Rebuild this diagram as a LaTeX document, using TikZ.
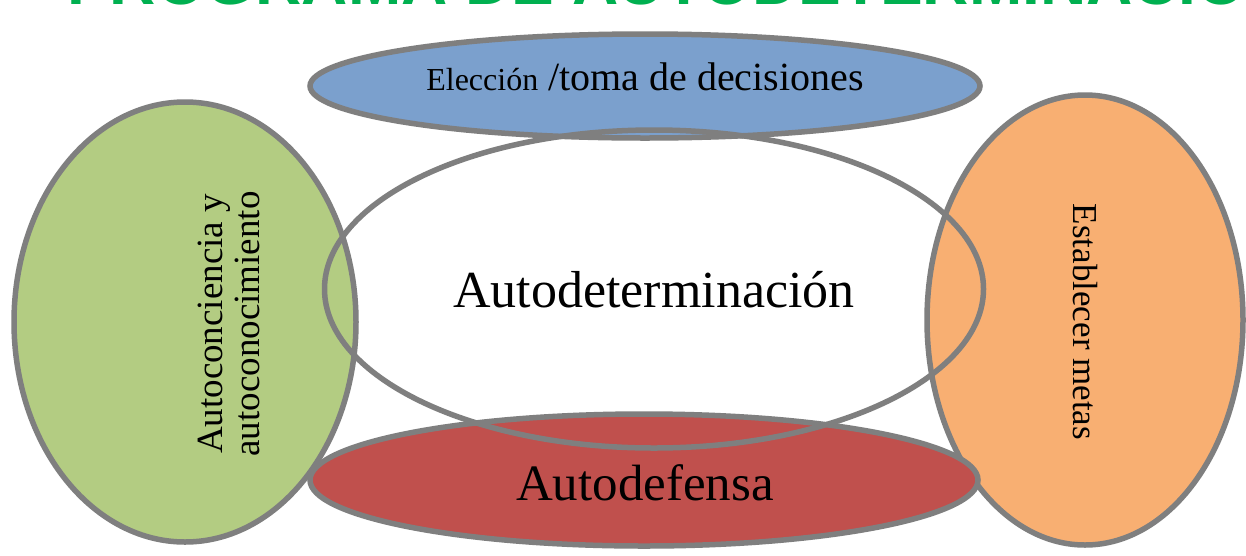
\documentclass[tikz,border=0pt]{standalone}
\usepackage{fontspec}
\setmainfont{Liberation Serif}
\newfontfamily\titlefont{Liberation Sans}
\usetikzlibrary{shapes.geometric}
\definecolor{cblue}{RGB}{123,160,205}
\definecolor{cgreen}{RGB}{179,204,130}
\definecolor{cred}{RGB}{192,80,77}
\definecolor{corange}{RGB}{248,175,114}
\definecolor{cline}{RGB}{127,127,127}
\definecolor{ctitle}{RGB}{0,176,80}
\begin{document}
\begin{tikzpicture}[x=1pt,y=-1pt,
  oval/.style={ellipse, draw=cline, line width=5.5pt, inner sep=0pt},
  lbl/.style={inner sep=0pt, text=black}]
\useasboundingbox (0,0) rectangle (1246,555);
\clip (0,0) rectangle (1246,555);
\fill[white] (0,0) rectangle (1246,555);
% title (cut off at top)
\node[anchor=base west, inner sep=0pt, text=ctitle, font=\titlefont\bfseries\fontsize{64}{64}\selectfont] (title) at (67,4.5) {PROGRAMA DE AUTODETERMINACIÓN};
% ellipses
\node[oval, fill=corange, minimum width=316pt, minimum height=450pt] (orange) at (1085,320) {};
\node[oval, fill=cred, minimum width=668pt, minimum height=132pt] (red) at (644,480) {};
\node[oval, fill=cgreen, minimum width=342pt, minimum height=440pt] (green) at (185,322) {};
\node[oval, fill=cblue, minimum width=670pt, minimum height=104pt] (blue) at (645,86) {};
\node[oval, minimum width=659pt, minimum height=318pt] (center) at (654,289) {};
% labels
\node[lbl, font=\fontsize{40}{44}\selectfont] (tblue) at (645,77) {{\fontsize{32}{34}\selectfont Elección} /toma de decisiones};
\node[lbl, font=\fontsize{52}{56}\selectfont] (tcenter) at (654,290) {Autodeterminación};
\node[lbl, font=\fontsize{51}{55}\selectfont] (tred) at (645,483) {Autodefensa};
\node[lbl, rotate=90, align=center, font=\fontsize{37}{37}\selectfont] (tgreen) at (229,324) {Autoconciencia y\\autoconocimiento};
\node[lbl, rotate=-90, font=\fontsize{35}{38}\selectfont] (torange) at (1085,322) {Establecer metas};
\end{tikzpicture}
\end{document}
